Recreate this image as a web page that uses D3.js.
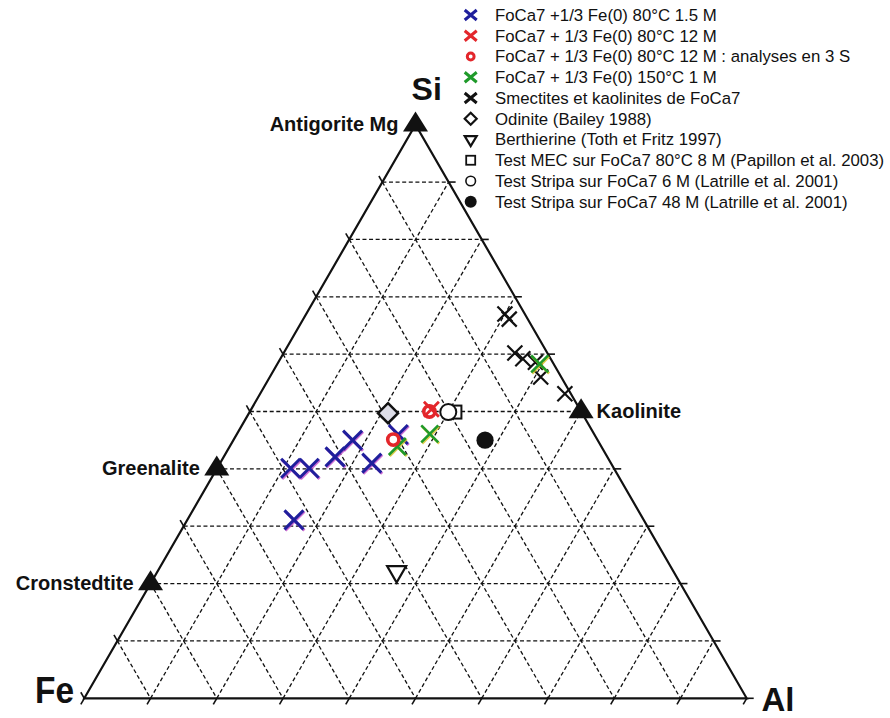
<!DOCTYPE html>
<html><head><meta charset="utf-8">
<script src="https://cdn.jsdelivr.net/npm/d3@7/dist/d3.min.js"></script>
<style>body{margin:0;background:#fff}svg{display:block}text{font-family:"Liberation Sans",Arial,sans-serif}</style>
</head><body><svg id="c" width="890" height="718"></svg>
<script>
// ---- data (compositions in %: [Fe, Si, Al]) ----
const vertexNames = ["Fe", "Si", "Al"];
const gridLevels = [10, 20, 30, 40, 50, 60, 70, 80, 90];
const tickLevels = [0, 10, 20, 30, 40, 50, 60, 70, 80, 90, 100];

const blue80C15M = [[48.8,40.1,11.1],[46.0,40.1,13.9],[41.1,42.1,16.8],[37.0,45.0,18.0],[36.1,41.0,22.9],[52.8,31.1,16.1],[29.6,46.0,24.4]];
const red80C12M = [[22.4,50.4,27.2]];
const red80C12M3S = [[22.9,50.0,27.1],[30.8,45.1,24.1]];
const green150C1M = [[2.1,58.3,39.6],[24.8,46.1,29.1],[30.8,43.9,25.3]];
const blackSmectites = [[3.0,67.0,30.0],[2.8,66.1,31.1],[4.9,60.2,34.9],[4.2,59.2,36.6],[2.6,58.6,38.8],[3.1,56.0,40.9],[0.9,53.1,46.0]];
const odinite = [[29.3,49.7,21.0]];
const berthierine = [[41.8,22.1,36.1]];
const testMEC8M = [[19.1,49.9,31.0]];
const stripa6M = [[20.1,49.9,30.0]];
const stripa48M = [[17.0,45.0,38.0]];

const refNames = ["Antigorite Mg", "Greenalite", "Cronstedtite", "Kaolinite"];
const refComps = [[0,100,0],[60,40,0],[80,20,0],[0,50,50]];
const refSide = ["left", "left", "left", "right"];

const legendLabels = [
  "FoCa7 +1/3 Fe(0) 80°C 1.5 M",
  "FoCa7 + 1/3 Fe(0) 80°C 12 M",
  "FoCa7 + 1/3 Fe(0) 80°C 12 M : analyses en 3 S",
  "FoCa7 + 1/3 Fe(0) 150°C 1 M",
  "Smectites et kaolinites de FoCa7",
  "Odinite (Bailey 1988)",
  "Berthierine (Toth et Fritz 1997)",
  "Test MEC sur FoCa7 80°C 8 M (Papillon et al. 2003)",
  "Test Stripa sur FoCa7 6 M (Latrille et al. 2001)",
  "Test Stripa sur FoCa7 48 M (Latrille et al. 2001)"
];
const legendMarkers = ["xBlue","xRed","ring","xGreen","xBlack","diamond","triDown","square","circle","dot"];

// ---- styling ----
const BLUE = "#1f1f9c", RED = "#e3262b", GREEN = "#1f9a2a", BLACK = "#111";

const svg = d3.select("#c");
const xS = d3.scaleLinear().domain([0, 100]).range([84.3, 746.7]);
const yS = d3.scaleLinear().domain([0, 100]).range([698.3, 124.7]);
function P(c) {
  const t = c[0] + c[1] + c[2];
  const s = c[1] / t * 100, a = c[2] / t * 100;
  return [xS(a + s / 2), yS(s)];
}

// grid
const grid = svg.append("g").attr("stroke", "#111").attr("stroke-width", 1.3).attr("stroke-dasharray", "4,2.6").attr("fill", "none");
const ticks = svg.append("g").attr("stroke", "#111").attr("stroke-width", 1.6);
const TL = 7;
function seg(g, a, b) { g.append("line").attr("x1", a[0]).attr("y1", a[1]).attr("x2", b[0]).attr("y2", b[1]); }
gridLevels.forEach(v => {
  seg(grid, P([100 - v, v, 0]), P([0, v, 100 - v]));   // const Si
  seg(grid, P([100 - v, 0, v]), P([0, 100 - v, v]));   // const Al
  seg(grid, P([v, 100 - v, 0]), P([v, 0, 100 - v]));   // const Fe
});
const c60 = Math.cos(Math.PI / 3), s60 = Math.sin(Math.PI / 3);
tickLevels.forEach(v => {
  const a = P([0, v, 100 - v]); seg(ticks, a, [a[0] + TL, a[1]]);
  const b = P([100 - v, 0, v]); seg(ticks, b, [b[0] - TL * c60, b[1] + TL * s60]);
  const c = P([v, 100 - v, 0]); seg(ticks, c, [c[0] - TL * c60, c[1] - TL * s60]);
});
// outline
svg.append("path")
  .attr("d", d3.line()([P([100,0,0]), P([0,100,0]), P([0,0,100])]) + "Z")
  .attr("fill", "none").attr("stroke", "#111").attr("stroke-width", 2.2).attr("stroke-linejoin", "miter");

// markers
function marker(g, type, x, y, big) {
  const xm = (col, h, hy, w, shadow) => {
    const d = `M${x - h},${y - hy}L${x + h},${y + hy}M${x - h},${y + hy}L${x + h},${y - hy}`;
    if (shadow) g.append("path").attr("d", d).attr("transform", "translate(0.9,1.1)").attr("stroke", shadow).attr("stroke-width", w).attr("fill", "none").attr("opacity", 0.8);
    g.append("path").attr("d", d).attr("stroke", col).attr("stroke-width", w).attr("fill", "none");
  };
  switch (type) {
    case "xBlue": big ? xm(BLUE, 9.5, 9.5, 3, "#c04ac8") : xm(BLUE, 6, 5, 3); break;
    case "xRed": big ? xm(RED, 7.5, 7.5, 2.8) : xm(RED, 6, 5, 3); break;
    case "xGreen": big ? xm(GREEN, 8.5, 8.5, 2.6, "#d8c020") : xm(GREEN, 6, 5, 3); break;
    case "xBlack": big ? xm(BLACK, 7.5, 7.5, 2.2) : xm(BLACK, 6, 5, 3); break;
    case "ring": g.append("circle").attr("cx", x).attr("cy", y).attr("r", big ? 5.6 : 3.4).attr("fill", "#fff").attr("stroke", RED).attr("stroke-width", big ? 3.6 : 3); break;
    case "diamond": { const h = big ? 10 : 6;
      g.append("path").attr("d", `M${x},${y - h}L${x + h},${y}L${x},${y + h}L${x - h},${y}Z`).attr("fill", big ? "#dedee8" : "#fff").attr("stroke", BLACK).attr("stroke-width", big ? 2.5 : 2.2); break; }
    case "triDown": { const w = big ? 9.5 : 6, hh = big ? 16.5 : 10;
      g.append("path").attr("d", `M${x - w},${y - hh / 3}L${x + w},${y - hh / 3}L${x},${y + 2 * hh / 3}Z`).attr("fill", "#fff").attr("stroke", BLACK).attr("stroke-width", 2.2); break; }
    case "square": { const h = big ? 6.5 : 4.5;
      g.append("rect").attr("x", x - h).attr("y", y - h).attr("width", 2 * h).attr("height", 2 * h).attr("fill", "#fff").attr("stroke", BLACK).attr("stroke-width", big ? 2 : 1.8); break; }
    case "circle": g.append("circle").attr("cx", x).attr("cy", y).attr("r", big ? 8 : 4.8).attr("fill", "#fff").attr("stroke", BLACK).attr("stroke-width", big ? 2 : 1.6); break;
    case "dot": g.append("circle").attr("cx", x).attr("cy", y).attr("r", big ? 8.6 : 6).attr("fill", BLACK); break;
  }
}

const pts = svg.append("g").attr("stroke-linecap", "butt");
const series = [
  [blackSmectites, "xBlack"], [odinite, "diamond"], [berthierine, "triDown"],
  [testMEC8M, "square"], [stripa6M, "circle"], [stripa48M, "dot"],
  [blue80C15M, "xBlue"], [green150C1M, "xGreen"], [red80C12M3S, "ring"], [red80C12M, "xRed"]
];
series.forEach(([data, type]) => data.forEach(c => { const p = P(c); marker(pts, type, p[0], p[1], true); }));

// reference minerals
const refG = svg.append("g");
refComps.forEach((c, i) => {
  const [x, y] = P(c);
  refG.append("path").attr("d", `M${x},${y - 13.3}L${x + 12.5},${y + 6.7}L${x - 12.5},${y + 6.7}Z`).attr("fill", BLACK);
  const left = refSide[i] === "left";
  refG.append("text").attr("x", left ? x - 17 : x + 15.5).attr("y", y + 6.5)
    .attr("text-anchor", left ? "end" : "start").attr("font-weight", "bold").attr("font-size", 20).attr("fill", BLACK)
    .text(refNames[i]);
});

// vertex labels
const vl = svg.append("g").attr("font-weight", "bold").attr("fill", BLACK);
vl.append("text").attr("x", 426.7).attr("y", 100).attr("text-anchor", "middle").attr("font-size", 32).text(vertexNames[1]);
vl.append("text").attr("x", 35).attr("y", 703.3).attr("font-size", 36).attr("textLength", 39).attr("lengthAdjust", "spacingAndGlyphs").text(vertexNames[0]);
vl.append("text").attr("x", 761.5).attr("y", 710.5).attr("font-size", 33).attr("textLength", 33).attr("lengthAdjust", "spacingAndGlyphs").text(vertexNames[2]);

// legend
const lg = svg.append("g");
legendLabels.forEach((t, i) => {
  const y = 15 + i * 20.75;
  marker(lg, legendMarkers[i], 470.7, y, false);
  lg.append("text").attr("x", 495).attr("y", y + 5.8).attr("font-size", 16.8).attr("fill", BLACK).text(t);
});
</script></body></html>
